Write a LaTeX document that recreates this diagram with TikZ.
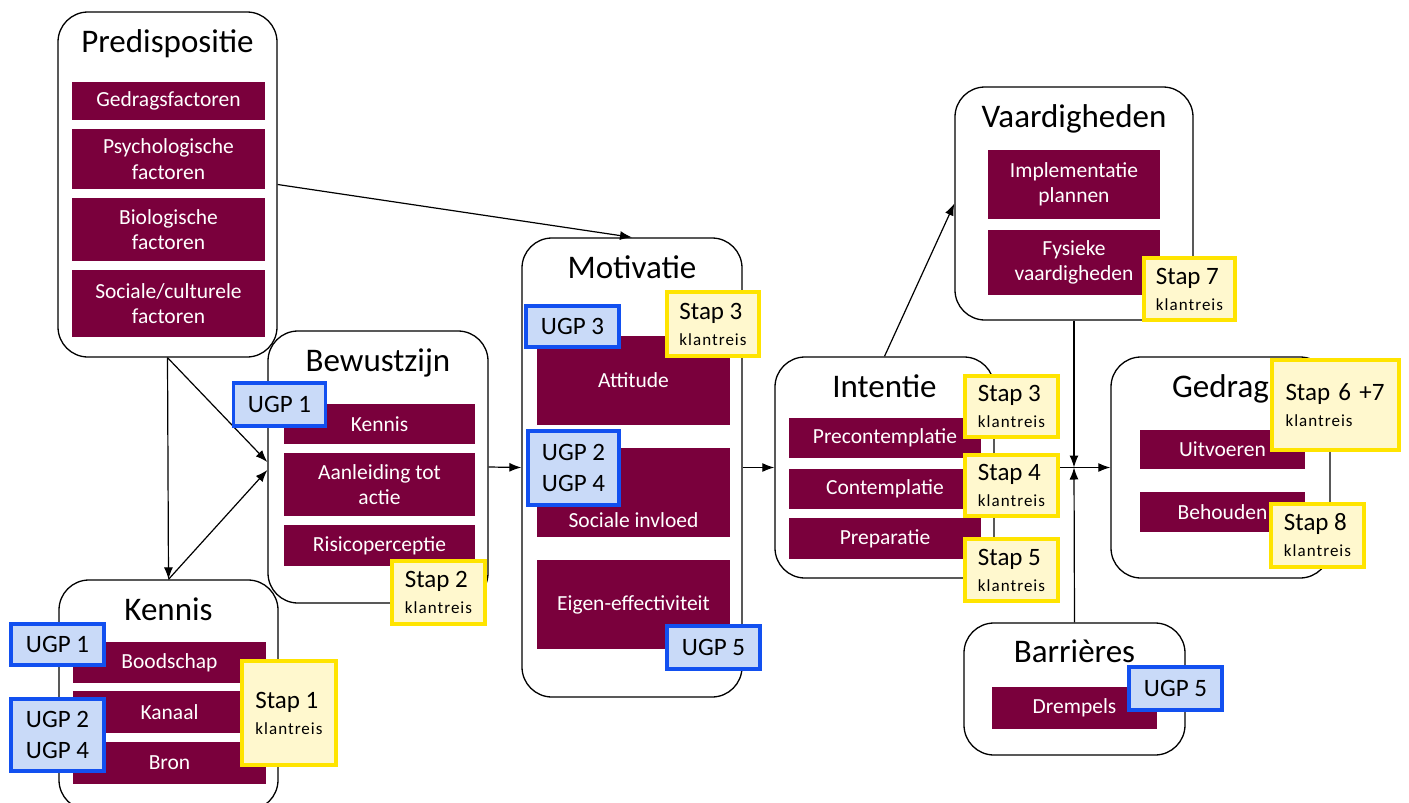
\documentclass[tikz,border=0pt]{standalone}
\usepackage{fontspec}
\setmainfont{Carlito}
\newfontfamily\klant[LetterSpace=6]{Carlito}
\usepackage{tikz}
\usetikzlibrary{arrows.meta}

\definecolor{plum}{RGB}{122,0,60}
\definecolor{ugpfill}{RGB}{201,218,248}
\definecolor{ugpline}{RGB}{18,80,240}
\definecolor{stapfill}{RGB}{255,248,206}
\definecolor{stapline}{RGB}{255,228,0}

\newcommand{\stap}[1]{Stap #1\\[-4pt]{\klant\fontsize{17}{20}\selectfont klantreis}}

\begin{document}
\begin{tikzpicture}[x=1pt, y=-1pt,
    group/.style={draw, line width=1.3pt, rounded corners=30pt, fill=white},
    title/.style={anchor=base, font=\fontsize{33}{39}\selectfont},
    factor/.style={fill=plum, text=white, align=center, inner sep=0pt, font=\fontsize{21.5}{25.5}\selectfont},
    ugp/.style={draw=ugpline, fill=ugpfill, line width=3.5pt, align=left, inner sep=0pt, font=\fontsize{25}{31}\selectfont},
    stapbox/.style={draw=stapline, fill=stapfill, line width=3.5pt, align=left, inner sep=0pt, font=\fontsize{25}{30}\selectfont},
    arr/.style={-{Latex[length=12pt,width=9pt]}, line width=1.2pt}]
        \clip (0,0) rectangle (1409,803);
        \fill[white] (0,0) rectangle (1409,803);

        % groups
        \node[group, minimum width=219pt, minimum height=345pt] (0) at (167.5,184.5) {};
        \node[group, minimum width=220pt, minimum height=272pt] (1) at (378,467) {};
        \node[group, minimum width=219pt, minimum height=230pt] (2) at (168.5,695) {};
        \node[group, minimum width=220pt, minimum height=459pt] (3) at (632,467.5) {};
        \node[group, minimum width=219pt, minimum height=221pt] (4) at (884.5,467.5) {};
        \node[group, minimum width=238pt, minimum height=233pt] (5) at (1074,203.5) {};
        \node[group, minimum width=219pt, minimum height=221pt] (6) at (1220.5,467.5) {};
        \node[group, minimum width=221pt, minimum height=132pt] (7) at (1074.5,689) {};

        \node[title] (0t) at ([yshift=-41pt]0.north) {Predispositie};
        \node[title] (1t) at ([yshift=-41pt]1.north) {Bewustzijn};
        \node[title] (2t) at ([yshift=-41pt]2.north) {Kennis};
        \node[title] (3t) at ([yshift=-41pt]3.north) {Motivatie};
        \node[title] (4t) at ([yshift=-41pt]4.north) {Intentie};
        \node[title] (5t) at ([yshift=-41pt]5.north) {Vaardigheden};
        \node[title] (6t) at ([yshift=-41pt]6.north) {Gedrag};
        \node[title] (7t) at ([yshift=-40pt]7.north) {Barrières};

        % factors
        \node[factor, minimum width=193pt, minimum height=38pt] (0a) at (168.5,101) {Gedragsfactoren};
        \node[factor, minimum width=193pt, minimum height=60pt] (0b) at (168.5,159) {Psychologische\\factoren};
        \node[factor, minimum width=193pt, minimum height=63pt] (0c) at (168.5,229.5) {Biologische\\factoren};
        \node[factor, minimum width=193pt, minimum height=67pt] (0d) at (168.5,303.5) {Sociale/culturele\\factoren};

        \node[factor, minimum width=191pt, minimum height=40pt] (1a) at (379.5,424) {Kennis};
        \node[factor, minimum width=191pt, minimum height=63pt] (1b) at (379.5,484.5) {Aanleiding tot\\actie};
        \node[factor, minimum width=191pt, minimum height=41pt] (1c) at (379.5,545.5) {Risicoperceptie};

        \node[factor, minimum width=193pt, minimum height=41pt] (2a) at (169.5,662.5) {Boodschap};
        \node[factor, minimum width=193pt, minimum height=42pt] (2b) at (169.5,712) {Kanaal};
        \node[factor, minimum width=193pt, minimum height=42pt] (2c) at (169.5,763) {Bron};

        \node[factor, minimum width=193pt, minimum height=89pt] (3a) at (633.5,380.5) {Attitude};
        \node[factor, minimum width=193pt, minimum height=89pt, text height=70pt] (3b) at (633.5,492.5) {Sociale invloed};
        \node[factor, minimum width=193pt, minimum height=89pt] (3c) at (633.5,604.5) {Eigen-effectiviteit};

        \node[factor, minimum width=192pt, minimum height=40pt] (4a) at (885,438) {Precontemplatie};
        \node[factor, minimum width=192pt, minimum height=40pt] (4b) at (885,489) {Contemplatie};
        \node[factor, minimum width=192pt, minimum height=41pt] (4c) at (885,538.5) {Preparatie};

        \node[factor, minimum width=172pt, minimum height=69pt] (5a) at (1074,184.5) {Implementatie\\plannen};
        \node[factor, minimum width=172pt, minimum height=65pt] (5b) at (1074,262.5) {Fysieke\\vaardigheden};

        \node[factor, minimum width=165pt, minimum height=39pt] (6a) at (1222.5,449.5) {Uitvoeren};
        \node[factor, minimum width=165pt, minimum height=40pt] (6b) at (1222.5,512) {Behouden};

        \node[factor, minimum width=165pt, minimum height=42pt] (7a) at (1074.5,708) {Drempels};

        % connectors
        \coordinate (j) at (5.south |- 6.west);
        \draw[arr] (0.east) -- (3.north);
        \draw[arr] (0.south) -- (2.north);
        \draw[arr] (0.south) -- ([yshift=5pt]1.west);
        \draw[arr] (2.north) -- ([yshift=-3pt]1.west);
        \draw[arr] (1.east) -- (3.west);
        \draw[arr] (3.east) -- (4.west);
        \draw[arr] (4.north) -- (5.west);
        \draw[arr] (4.east) -- (6.west);
        \draw[arr] (5.south) -- (j);
        \draw[arr] (7.north) -- (j);

        % ugp and stap tags
        \node[ugp, minimum width=92pt, minimum height=43pt] (1u) at (279.5,404.5) {UGP 1};
        \node[stapbox, minimum width=93pt, minimum height=63pt] (1s) at (438.5,592.5) {\stap{2}};

        \node[ugp, minimum width=93pt, minimum height=41pt] (2u) at (57.5,644.5) {UGP 1};
        \node[ugp, minimum width=93pt, minimum height=72pt] (2v) at (57.5,735) {UGP 2\\UGP 4};
        \node[stapbox, minimum width=94pt, minimum height=104pt] (2s) at (289,713) {\stap{1}};

        \node[ugp, minimum width=93pt, minimum height=41pt] (3u) at (572.5,326.5) {UGP 3};
        \node[ugp, minimum width=91pt, minimum height=74pt] (3v) at (573.5,468) {UGP 2\\UGP 4};
        \node[stapbox, minimum width=92pt, minimum height=64pt] (3s) at (713,324) {\stap{3}};
        \node[ugp, minimum width=93pt, minimum height=43pt] (3w) at (713.5,647.5) {UGP 5};

        \node[stapbox, minimum width=93pt, minimum height=61pt] (4s) at (1011.5,406.5) {\stap{3}};
        \node[stapbox, minimum width=93pt, minimum height=61pt] (4t) at (1011.5,485.5) {\stap{4}};
        \node[stapbox, minimum width=93pt, minimum height=62pt] (4u) at (1011.5,570) {\stap{5}};

        \node[stapbox, minimum width=91pt, minimum height=62pt] (5s) at (1189.5,289) {\stap{7}};

        \node[stapbox, minimum width=127pt, minimum height=90pt, text width=100pt] (6s) at (1335.5,405) {\stap{6 +7}};
        \node[stapbox, minimum width=93pt, minimum height=63pt] (6t) at (1317.5,535.5) {\stap{8}};

        \node[ugp, minimum width=93pt, minimum height=43pt] (7u) at (1175.5,688.5) {UGP 5};
    \end{tikzpicture}
\end{document}
